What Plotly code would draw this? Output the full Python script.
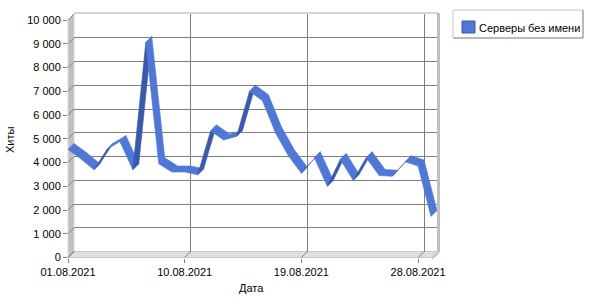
import pandas as pd
import plotly.graph_objects as go

# ---- data ----
dates = pd.date_range("2021-08-01", "2021-08-29", freq="D")
hits = [4550, 4150, 3700, 4550, 4880, 3700, 9050, 3950, 3600, 3600,
        3480, 5330, 4950, 5100, 7000, 6600, 5250, 4280, 3550, 4200,
        3000, 4130, 3250, 4200, 3450, 3420, 4030, 3850, 1730]
x_ticks = ["2021-08-01", "2021-08-10", "2021-08-19", "2021-08-28"]
y_ticks = list(range(0, 10001, 1000))
series_name = "Серверы без имени"

# ---- geometry / style ----
W, H = 600, 300
BX0, BX1, BY0, BY1 = 74, 437, 14, 251.5      # back wall (px)
DEPTH = 6                                      # 3D depth (px)
FX0, FX1, FY0, FY1 = BX0 - DEPTH, BX1 - DEPTH, BY0 + DEPTH, BY1 + DEPTH
LIGHT = "#4e77d6"
DARK = "#3a5aa8"
FONT = "Liberation Sans, Arial, sans-serif"

def px(x):
    return x / W

def py(y):
    return 1 - y / H

d0, d1 = dates[0], dates[-1]
ndays = (d1 - d0).days
px_per_day = (BX1 - BX0) / ndays
dd = pd.Timedelta(days=DEPTH / px_per_day)
px_per_val = (BY1 - BY0) / 10000
dv = DEPTH / px_per_val

fig = go.Figure()

# invisible carriers so the back-wall and front-axis subplots get drawn
for xa, ya in (("x", "y"), ("x2", "y2")):
    fig.add_trace(go.Scatter(x=list(dates), y=hits, mode="lines",
                             line=dict(width=0), opacity=0,
                             xaxis=xa, yaxis=ya, showlegend=False,
                             hoverinfo="skip"))

# ribbon: one parallelogram per segment (front edge -> back edge)
for i in range(len(hits) - 1):
    a, b = dates[i], dates[i + 1]
    va, vb = hits[i], hits[i + 1]
    rise_px = (vb - va) * px_per_val
    color = DARK if rise_px > px_per_day else LIGHT
    fig.add_trace(go.Scatter(
        x=[a - dd, b - dd, b, a, a - dd],
        y=[va - dv, vb - dv, vb, va, va - dv],
        mode="lines", fill="toself", fillcolor=color,
        line=dict(color=color, width=0.6),
        xaxis="x3", yaxis="y3",
        name=series_name, legendgroup="s",
        showlegend=False, hoverinfo="skip",
    ))

common_grid = dict(showline=False, zeroline=False, automargin=False)
fig.update_layout(
    width=W, height=H,
    margin=dict(l=0, r=0, t=0, b=0, pad=0, autoexpand=False),
    paper_bgcolor="white", plot_bgcolor="rgba(0,0,0,0)",
    separators=", ",
    showlegend=False,
    font=dict(family=FONT, size=11, color="black"),
    # back wall: gridlines
    xaxis=dict(domain=[px(BX0), px(BX1)], type="date", range=[d0, d1],
               tickvals=x_ticks, showticklabels=False, ticks="",
               showgrid=True, gridcolor="#808080", gridwidth=1, anchor="y",
               **common_grid),
    yaxis=dict(domain=[py(BY1), py(BY0)], range=[0, 10000],
               tickvals=y_ticks, showticklabels=False, ticks="",
               showgrid=True, gridcolor="#808080", gridwidth=1, anchor="x",
               **common_grid),
    # front axes: tick labels
    xaxis2=dict(domain=[px(FX0), px(FX1)], type="date", range=[d0, d1],
                tickvals=x_ticks, tickformat="%d.%m.%Y", ticks="outside",
                ticklen=4, tickcolor="#808080", showgrid=False, anchor="y2",
                tickfont=dict(size=11), **common_grid),
    yaxis2=dict(domain=[py(FY1), py(FY0)], range=[0, 10000],
                tickvals=y_ticks, tickformat=",d", ticks="outside",
                ticklen=4, tickcolor="#808080", showgrid=False, anchor="x2",
                tickfont=dict(size=11), **common_grid),
    # ribbon axes spanning front to back
    xaxis3=dict(domain=[px(FX0), px(BX1)], type="date", range=[d0 - dd, d1],
                visible=False, anchor="y3", automargin=False),
    yaxis3=dict(domain=[py(FY1), py(BY0)], range=[-dv, 10000],
                visible=False, anchor="x3", automargin=False),
)

# walls and floor
shapes = [
    dict(type="path", xref="paper", yref="paper", layer="below",
         path=f"M{px(FX0)},{py(FY0)} L{px(BX0)},{py(BY0)} L{px(BX0)},{py(BY1)} L{px(FX0)},{py(FY1)} Z",
         fillcolor="#c0c0c0", line=dict(color="#d8d8d8", width=1)),
    dict(type="path", xref="paper", yref="paper", layer="below",
         path=f"M{px(FX0)},{py(FY1)} L{px(BX0)},{py(BY1)} L{px(BX1)},{py(BY1)} L{px(FX1)},{py(FY1)} Z",
         fillcolor="#e0e0e0", line=dict(color="#c8c8c8", width=1)),
    dict(type="line", xref="paper", yref="paper", layer="below",
         x0=px(BX0), y0=py(BY0 - 1), x1=px(BX1 + 1), y1=py(BY0 - 1),
         line=dict(color="#d4d4d4", width=2)),
    dict(type="line", xref="paper", yref="paper", layer="below",
         x0=px(BX1 + 1.5), y0=py(BY0 - 1), x1=px(BX1 + 1.5), y1=py(BY1 + 1),
         line=dict(color="#c0c0c0", width=3)),
    dict(type="line", xref="paper", yref="paper", layer="below",
         x0=px(BX1 + 1.5), y0=py(BY1 + 1), x1=px(FX1 + 1), y1=py(FY1 + 1),
         line=dict(color="#c0c0c0", width=2)),
]
for t in x_ticks:
    tt = pd.Timestamp(t)
    shapes.append(dict(type="line", xref="x3", yref="paper", layer="below",
                       x0=tt, y0=py(BY1), x1=tt - dd, y1=py(FY1),
                       line=dict(color="#808080", width=1)))
for v in y_ticks:
    shapes.append(dict(type="line", xref="paper", yref="y3", layer="below",
                       x0=px(BX0), y0=v, x1=px(FX0), y1=v - dv,
                       line=dict(color="#808080", width=1)))

# legend box (drawn as shapes + text)
LX0, LX1, LY0, LY1 = 453, 583, 10, 38
shapes += [
    dict(type="rect", xref="paper", yref="paper", layer="above",
         x0=px(LX0), y0=py(LY1), x1=px(LX1), y1=py(LY0),
         fillcolor="white", line=dict(color="#c8c8c8", width=1)),
    dict(type="path", xref="paper", yref="paper", layer="above",
         path=f"M{px(LX1)},{py(LY0)} L{px(LX1)},{py(LY1)} L{px(LX0)},{py(LY1)}",
         line=dict(color="#909090", width=1)),
    dict(type="rect", xref="paper", yref="paper", layer="above",
         x0=px(462), y0=py(33), x1=px(475), y1=py(21),
         fillcolor=LIGHT, line=dict(color=DARK, width=1)),
]
fig.update_layout(shapes=shapes)

fig.add_annotation(text=series_name, xref="paper", yref="paper",
                   x=px(477), y=py(27.5), xanchor="left", yanchor="middle",
                   showarrow=False, font=dict(size=11))
fig.add_annotation(text="Хиты", textangle=-90, xref="paper", yref="paper",
                   x=px(10), y=py(140), xanchor="center", yanchor="middle",
                   showarrow=False, font=dict(size=11))
fig.add_annotation(text="Дата", xref="paper", yref="paper",
                   x=px(251), y=py(288), xanchor="center", yanchor="middle",
                   showarrow=False, font=dict(size=11))

fig.write_html("out.html")
